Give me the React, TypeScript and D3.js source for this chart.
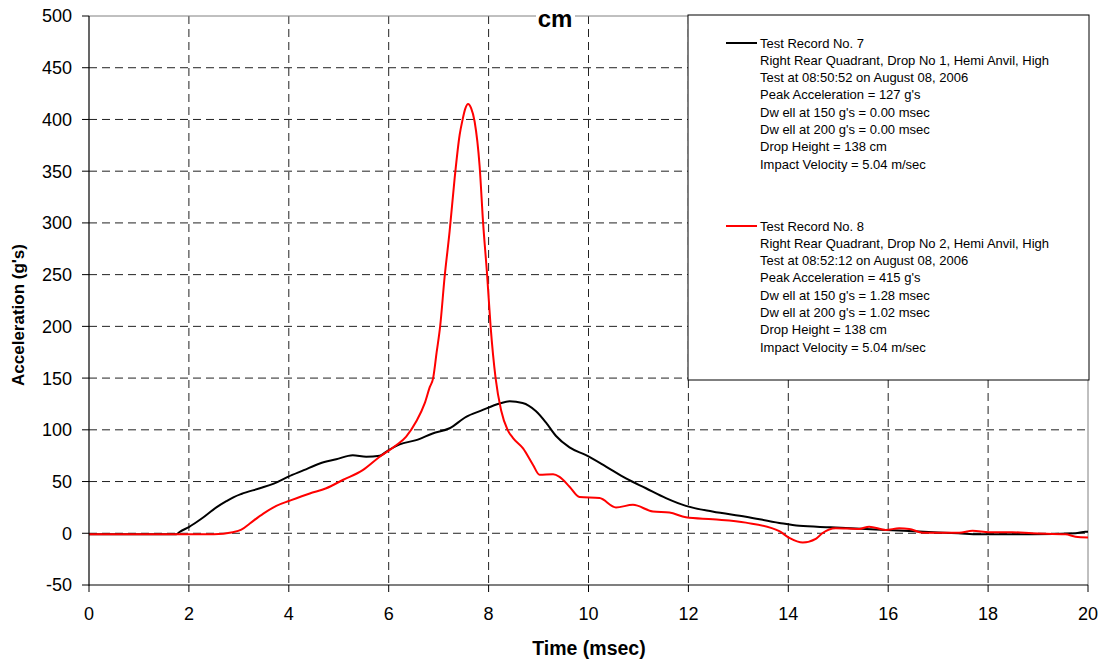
import React from "react";
import * as d3 from "d3";

const W = 1102;
const H = 662;

const xTicks = [0, 2, 4, 6, 8, 10, 12, 14, 16, 18, 20];
const yTicks = [-50, 0, 50, 100, 150, 200, 250, 300, 350, 400, 450, 500];

const rec7Time = [0, 1.0, 1.75, 1.82, 2.0, 2.25, 2.55, 2.75, 2.9, 3.05, 3.42, 3.7, 3.98, 4.3, 4.62, 4.95, 5.28, 5.55, 5.82, 6.0, 6.22, 6.55, 6.88, 7.22, 7.55, 7.85, 8.22, 8.42, 8.68, 8.95, 9.15, 9.35, 9.62, 9.95, 10.35, 10.75, 11.15, 11.55, 11.95, 12.48, 13.15, 13.82, 14.22, 14.85, 15.95, 16.62, 17.4, 17.82, 18.88, 19.75, 19.95, 20];
const rec7Accel = [-1, -1, -1, 1.5, 6, 14, 25, 31, 35, 38, 43.5, 48, 54.5, 61, 67.5, 71.5, 75.5, 74, 75, 80.5, 86, 90, 96.5, 101.5, 112.5, 118.5, 125.5, 127.5, 126, 118, 107, 94, 83, 75.5, 64.5, 53, 43.5, 34, 26.5, 21, 16, 10, 7.2, 5.8, 3.2, 1.6, 0, -1, -1, 0, 1.5, 1.5];

const rec8Time = [0, 2.5, 2.88, 3.05, 3.22, 3.49, 3.75, 4.02, 4.42, 4.75, 5.08, 5.48, 5.82, 6.15, 6.35, 6.55, 6.72, 6.82, 6.89, 6.96, 7.03, 7.12, 7.22, 7.32, 7.42, 7.48, 7.53, 7.59, 7.65, 7.72, 7.82, 7.89, 7.97, 8.04, 8.14, 8.25, 8.38, 8.49, 8.69, 8.89, 9.02, 9.29, 9.42, 9.62, 9.82, 10.22, 10.55, 10.89, 11.29, 11.62, 11.95, 12.49, 13.15, 13.82, 14.02, 14.29, 14.55, 14.68, 14.95, 15.42, 15.62, 15.95, 16.22, 16.42, 16.69, 17.42, 17.69, 18.02, 18.48, 18.88, 19.55, 19.75, 20];
const rec8Accel = [-1, -1, 1, 3.5, 9.5, 19, 26.5, 31.5, 38.5, 43.5, 51.5, 61, 74, 85, 93.5, 108, 125.5, 141, 150, 175, 200, 248, 292, 343, 385, 400, 410, 415, 411, 398, 355, 300, 250, 200, 150, 119, 100, 92, 82, 66, 56.5, 57, 54.5, 45, 35, 34, 25, 27.5, 21, 20, 15.5, 13.5, 10.3, 2, -4.5, -9, -5.5, 0, 4.8, 4.2, 6.4, 3.2, 4.8, 4.2, 0.6, 0.6, 2.5, 1, 1, 0, -1, -3.3, -4];

const legend7 = [
  "Test Record No. 7",
  "Right Rear Quadrant, Drop No 1, Hemi Anvil, High",
  "Test at 08:50:52 on August 08, 2006",
  "Peak Acceleration = 127 g's",
  "Dw ell at 150 g's = 0.00 msec",
  "Dw ell at 200 g's = 0.00 msec",
  "Drop Height = 138 cm",
  "Impact Velocity = 5.04 m/sec",
];
const legend8 = [
  "Test Record No. 8",
  "Right Rear Quadrant, Drop No 2, Hemi Anvil, High",
  "Test at 08:52:12 on August 08, 2006",
  "Peak Acceleration = 415 g's",
  "Dw ell at 150 g's = 1.28 msec",
  "Dw ell at 200 g's = 1.02 msec",
  "Drop Height = 138 cm",
  "Impact Velocity = 5.04 m/sec",
];

const FONT = "'Liberation Sans', Arial, Helvetica, sans-serif";

export default function App() {
  const left = 89, right = 1088, top = 16, bottom = 585;
  const x = d3.scaleLinear().domain([0, 20]).range([left, right]);
  const y = d3.scaleLinear().domain([-50, 500]).range([bottom, top]);

  const line = d3
    .line<[number, number]>()
    .x((d) => x(d[0]))
    .y((d) => y(d[1]))
    .curve(d3.curveMonotoneX);

  const s7 = rec7Time.map((t, i) => [t, rec7Accel[i]] as [number, number]);
  const s8 = rec8Time.map((t, i) => [t, rec8Accel[i]] as [number, number]);

  const legendX = 688, legendY = 15, legendW = 401, legendH = 365;
  const rowH = 17.3;

  return (
    <svg
      width={W}
      height={H}
      style={{ position: "absolute", left: 0, top: 0, background: "#fff" }}
      fontFamily={FONT}
    >
      <rect x={0} y={0} width={W} height={H} fill="#fff" />
      {/* grid */}
      {yTicks
        .filter((v) => v > -50 && v < 500)
        .map((v) => (
          <line key={"gy" + v} x1={left} x2={right} y1={y(v)} y2={y(v)} stroke="#222" strokeWidth={1} strokeDasharray="8,5" />
        ))}
      {xTicks
        .filter((v) => v > 0 && v < 20)
        .map((v) => (
          <line key={"gx" + v} x1={x(v)} x2={x(v)} y1={top} y2={bottom} stroke="#222" strokeWidth={1} strokeDasharray="8,5" />
        ))}
      {/* plot frame top/right */}
      <line x1={left} x2={right} y1={top} y2={top} stroke="#808080" strokeWidth={1} />
      <line x1={right} x2={right} y1={top} y2={bottom} stroke="#808080" strokeWidth={1} />
      {/* series */}
      <path d={line(s7) || ""} fill="none" stroke="#000" strokeWidth={2} />
      <path d={line(s8) || ""} fill="none" stroke="#ff0000" strokeWidth={2} />
      {/* axes */}
      <line x1={left} x2={left} y1={top} y2={bottom + 0.5} stroke="#000" strokeWidth={1.2} />
      <line x1={left} x2={right} y1={bottom} y2={bottom} stroke="#000" strokeWidth={1.2} />
      {yTicks.map((v) => (
        <g key={"yt" + v}>
          <line x1={left - 7} x2={left} y1={y(v)} y2={y(v)} stroke="#000" />
          <text x={72} y={y(v)} dy="0.36em" textAnchor="end" fontSize={18} fill="#000">
            {v}
          </text>
        </g>
      ))}
      {xTicks.map((v) => (
        <g key={"xt" + v}>
          <line x1={x(v)} x2={x(v)} y1={bottom} y2={bottom + 7} stroke="#000" />
          <text x={x(v)} y={620} textAnchor="middle" fontSize={18} fill="#000">
            {v}
          </text>
        </g>
      ))}
      {/* axis titles */}
      <text x={589} y={655} textAnchor="middle" fontSize={19.5} fontWeight="bold" fill="#000">
        Time (msec)
      </text>
      <text
        transform={`translate(24,${315}) rotate(-90)`}
        textAnchor="middle"
        fontSize={17}
        fontWeight="bold"
        fill="#000"
      >
        Acceleration (g's)
      </text>
      {/* title */}
      <rect x={536} y={8} width={39} height={20} fill="#fff" />
      <text x={555} y={27} textAnchor="middle" fontSize={24} fontWeight="bold" fill="#000">
        cm
      </text>
      {/* legend */}
      <rect x={legendX} y={legendY} width={legendW} height={legendH} fill="#fff" stroke="#000" strokeWidth={1} />
      <line x1={726} x2={757} y1={43} y2={43} stroke="#000" strokeWidth={2} />
      {legend7.map((t, i) => (
        <text key={"l7" + i} x={760} y={43 + i * rowH} dy="0.35em" fontSize={13} fill="#000">
          {t}
        </text>
      ))}
      <line x1={726} x2={757} y1={226} y2={226} stroke="#ff0000" strokeWidth={2} />
      {legend8.map((t, i) => (
        <text key={"l8" + i} x={760} y={226 + i * rowH} dy="0.35em" fontSize={13} fill="#000">
          {t}
        </text>
      ))}
    </svg>
  );
}
